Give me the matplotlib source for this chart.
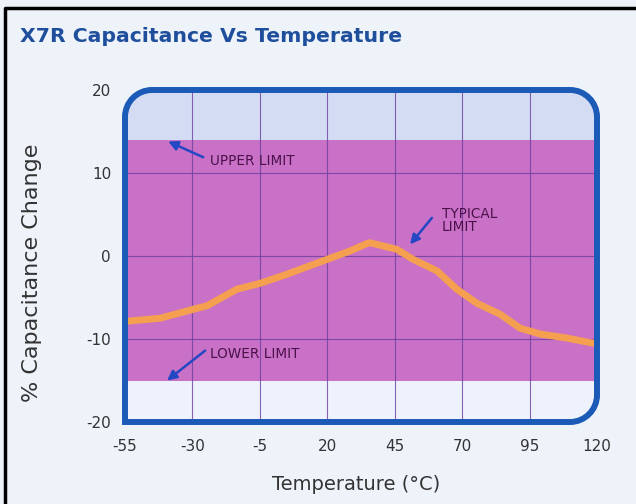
import matplotlib
matplotlib.use("Agg")
import matplotlib.pyplot as plt
from matplotlib.path import Path
from matplotlib.patches import PathPatch
from matplotlib.lines import Line2D
from matplotlib.transforms import IdentityTransform

plt.rcParams["axes.unicode_minus"] = False

# data
temp = [-55, -52.4, -42, -28.3, -24.6, -13.5, -5, 5, 20, 28.4, 34.7, 35.8,
        45.8, 51.8, 60.7, 68, 75.5, 84, 91.5, 99, 109, 118.5, 120]
cap_change = [-7.9, -7.8, -7.5, -6.3, -6.0, -4.0, -3.3, -2.2, -0.4, 0.6, 1.5, 1.6,
              0.8, -0.4, -1.8, -4.0, -5.7, -7.0, -8.7, -9.4, -9.9, -10.5, -10.6]
upper_limit = 14
lower_limit = -15
x_ticks = [-55, -30, -5, 20, 45, 70, 95, 120]
y_ticks = [-20, -10, 0, 10, 20]

bg = "#eef3fa"
frame_blue = "#1b5bb7"
pink = "#c970c7"
grid_col = "#6b3f9e"
label_col = "#4a1248"
arrow_col = "#2447c4"

fig = plt.figure(figsize=(6.36, 5.04), dpi=100, facecolor=bg)
ax = fig.add_axes([125 / 636, 1 - 422 / 504, 472 / 636, 332 / 504])
ax.set_facecolor("none")
ax.set_xlim(-55, 120)
ax.set_ylim(-20, 20)

# rounded frame (square bottom-left corner), built in pixels from the axes box
bb = ax.get_window_extent()
x0, y0, x1, y1 = bb.x0, bb.y0, bb.x1, bb.y1
r = 27
k = 0.5523 * r
verts = [(x0, y0), (x0, y1 - r),
         (x0, y1 - r + k), (x0 + r - k, y1), (x0 + r, y1),
         (x1 - r, y1),
         (x1 - r + k, y1), (x1, y1 - r + k), (x1, y1 - r),
         (x1, y0 + r),
         (x1, y0 + r - k), (x1 - r + k, y0), (x1 - r, y0),
         (x0, y0)]
codes = [Path.MOVETO, Path.LINETO,
         Path.CURVE4, Path.CURVE4, Path.CURVE4,
         Path.LINETO,
         Path.CURVE4, Path.CURVE4, Path.CURVE4,
         Path.LINETO,
         Path.CURVE4, Path.CURVE4, Path.CURVE4,
         Path.CLOSEPOLY]
frame_path = Path(verts, codes)
frame = PathPatch(frame_path, transform=IdentityTransform(), facecolor="none",
                  edgecolor=frame_blue, lw=4.3, zorder=10)
clip = PathPatch(frame_path, transform=IdentityTransform(), facecolor="none",
                 edgecolor="none")

bands = [
    ax.axhspan(upper_limit, 20, color="#d4dcf3", lw=0, zorder=0),
    ax.axhspan(lower_limit, upper_limit, color=pink, lw=0, zorder=0),
    ax.axhspan(-20, lower_limit, color="#eef2fc", lw=0, zorder=0),
]
for b in bands:
    b.set_clip_path(clip)

ax.set_xticks(x_ticks)
ax.set_yticks(y_ticks)
ax.grid(True, color=grid_col, lw=0.8, alpha=0.8, zorder=1)
for gl in ax.get_xgridlines() + ax.get_ygridlines():
    gl.set_clip_path(clip)
ax.set_axisbelow(True)
ax.tick_params(length=0, labelsize=11, labelcolor="#333333")
ax.tick_params(axis="y", pad=10)
ax.tick_params(axis="x", pad=12)
for s in ax.spines.values():
    s.set_visible(False)

line, = ax.plot(temp, cap_change, color="#f4a050", lw=5, solid_capstyle="round",
                solid_joinstyle="round", zorder=3)
line.set_clip_path(clip)

ax.set_ylabel("% Capacitance Change", fontsize=16, color="#333333")
ax.yaxis.set_label_coords(-0.175, 0.45)
ax.set_xlabel("Temperature (°C)", fontsize=14, color="#333333")
ax.xaxis.set_label_coords(0.49, -0.16)

arrow = dict(arrowstyle="-|>", color=arrow_col, lw=1.8, mutation_scale=14,
             shrinkA=0, shrinkB=0)
ax.annotate("", xy=(-39, 13.8), xytext=(-26, 11.9), arrowprops=arrow, zorder=5)
ax.text(-23.5, 11.5, "UPPER LIMIT", fontsize=9.8, color=label_col, va="center")
ax.annotate("", xy=(-39.4, -15.0), xytext=(-25.3, -11.4), arrowprops=arrow, zorder=5)
ax.text(-23.5, -11.8, "LOWER LIMIT", fontsize=9.8, color=label_col, va="center")
ax.annotate("", xy=(50.7, 1.4), xytext=(58.8, 4.6), arrowprops=arrow, zorder=5)
ax.text(62.5, 4.3, "TYPICAL\nLIMIT", fontsize=9.8, color=label_col, va="center",
        linespacing=0.9)

fig.add_artist(frame)

fig.text(20 / 636, 1 - 36 / 504, "X7R Capacitance Vs Temperature", fontsize=14.7,
         fontweight="bold", color="#1f4f9c", va="center")

# scan border on the left and top
fig.add_artist(Line2D([5 / 636, 5 / 636, 1], [0, 1 - 8 / 504, 1 - 8 / 504],
                      transform=fig.transFigure, color="black", lw=2.5))

fig.savefig("out.png", dpi=100, facecolor=bg)
